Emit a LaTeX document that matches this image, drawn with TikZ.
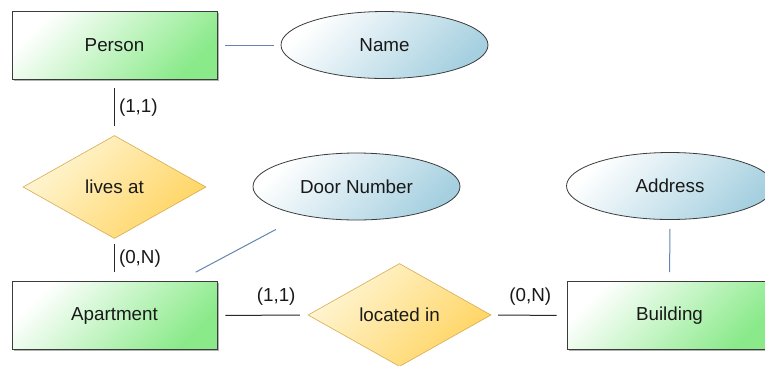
\documentclass[tikz,border=0pt]{standalone}
\usepackage{fontspec}
\setmainfont{Liberation Sans}
\usetikzlibrary{shapes.geometric,shadows}
\definecolor{entgreen}{RGB}{138,234,138}
\definecolor{attblue}{RGB}{166,208,224}
\definecolor{relgold}{RGB}{255,212,96}
\definecolor{relpale}{RGB}{255,246,214}
\definecolor{relborder}{RGB}{214,172,80}
\definecolor{edgegray}{RGB}{60,60,60}
\definecolor{attline}{RGB}{100,135,175}
\definecolor{cardline}{RGB}{40,40,40}
\definecolor{txt}{RGB}{25,25,25}
\begin{document}
\begin{tikzpicture}[x=1pt,y=-1pt,
  font=\fontsize{18.8}{22}\selectfont, text=txt,
  entity/.style={rectangle, draw=edgegray, line width=0.8pt,
    minimum width=205pt, minimum height=68pt,
    top color=white, bottom color=entgreen, shading angle=45,
    drop shadow={shadow xshift=1.5pt, shadow yshift=-1.5pt, fill=black, opacity=0.3}},
  attribute/.style={ellipse, draw=edgegray, line width=0.8pt,
    minimum width=207pt, minimum height=67pt, inner sep=0pt,
    top color=white, bottom color=attblue, shading angle=45},
  relation/.style={diamond, draw=relborder, line width=0.6pt,
    minimum width=183pt, minimum height=103pt, inner sep=0pt, aspect=1.78,
    top color=relpale, bottom color=relgold, shading angle=45},
  attrlink/.style={draw=attline, line width=1pt},
  cardlink/.style={draw=cardline, line width=1pt},
  cardlabel/.style={inner sep=0pt, text=txt}
]
\useasboundingbox[fill=white] (0,0) rectangle (765,365);

\node[entity] (person) at (114.5,45) {Person};
\node[attribute] (name) at (384.5,45) {Name};
\node[relation] (lives) at (114.5,187) {lives at};
\node[entity] (apt) at (114.5,315.5) {Apartment};
\node[attribute] (door) at (356.5,186.5) {Door Number};
\node[relation] (loc) at (399.5,315) {located in};
\node[entity] (bld) at (669.5,315.5) {Building};
\node[attribute] (addr) at (670,186) {Address};

\draw[attrlink, shorten <=8pt, shorten >=7pt] (person) -- (name);
\draw[cardlink, shorten <=9pt, shorten >=9pt] (person) -- (lives)
  node[midway, anchor=west, cardlabel, xshift=4pt] {(1,1)};
\draw[cardlink, shorten <=5pt, shorten >=9pt] (lives) -- (apt)
  node[midway, anchor=west, cardlabel, xshift=4pt, yshift=1pt] {(0,N)};
\draw[attrlink, shorten <=19pt, shorten >=30pt] (apt) -- (door);
\draw[cardlink, shorten <=8pt, shorten >=8pt] (apt) -- (loc)
  node[pos=1, anchor=south east, cardlabel, xshift=-12pt, yshift=9pt] {(1,1)};
\draw[cardlink, shorten <=7pt, shorten >=10pt] (loc) -- (bld)
  node[pos=1, anchor=south east, cardlabel, xshift=-15pt, yshift=9pt] {(0,N)};
\draw[attrlink, shorten <=9pt, shorten >=9pt] (addr) -- (bld);
\end{tikzpicture}
\end{document}
